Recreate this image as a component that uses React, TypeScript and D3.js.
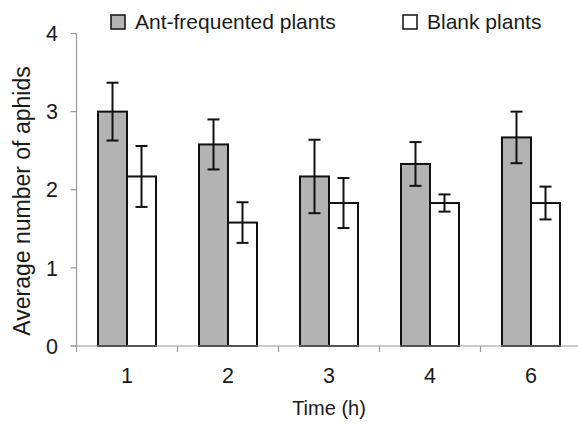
import React from 'react';
import * as d3 from 'd3';

// Time points (h) and the two series
const times = ['1', '2', '3', '4', '6'];
const antMeans = [3.0, 2.58, 2.17, 2.33, 2.67];
const antErrors = [0.37, 0.32, 0.47, 0.28, 0.33];
const blankMeans = [2.17, 1.58, 1.83, 1.83, 1.83];
const blankErrors = [0.39, 0.26, 0.32, 0.11, 0.21];
const yTicks = [0, 1, 2, 3, 4];

const seriesNames = ['Ant-frequented plants', 'Blank plants'];
const seriesFills = ['#b3b3b3', '#ffffff'];

const width = 578;
const height = 424;
const font = '"Liberation Sans", Arial, sans-serif';
const textColor = '#1a1a1a';

export default function App() {
  // plot area runs slightly past the right edge, like the cropped original
  const x = d3.scaleBand<string>().domain(times).range([76.5, 581.5]).paddingInner(0).paddingOuter(0);
  const inner = d3.scaleBand<string>().domain(['ant', 'blank']).range([21.5, x.bandwidth() - 21.5]);
  const y = d3.scaleLinear().domain([0, 4]).range([346, 33.5]);

  const series = [
    { key: 'ant', means: antMeans, errors: antErrors, fill: seriesFills[0] },
    { key: 'blank', means: blankMeans, errors: blankErrors, fill: seriesFills[1] },
  ];

  const x0 = x.range()[0];
  const x1 = x.range()[1];
  const boundaries = times.map(t => x(t)!).concat([x1]);

  return (
    <svg
      width={width}
      height={height}
      style={{ position: 'absolute', left: 0, top: 0, background: '#fff' }}
      fontFamily={font}
    >
      {/* y axis */}
      <line x1={x0} x2={x0} y1={y(4)} y2={y(0)} stroke="#999" strokeWidth={1.2} />
      {yTicks.map(t => (
        <g key={t}>
          <line x1={x0 - 6} x2={x0} y1={y(t)} y2={y(t)} stroke="#999" strokeWidth={1.2} />
          <text x={58} y={y(t)} dy="0.36em" textAnchor="end" fontSize={21.5} fill={textColor}>
            {t}
          </text>
        </g>
      ))}

      {/* bars */}
      {series.map(s =>
        times.map((t, i) => {
          const bx = x(t)! + inner(s.key)!;
          return (
            <rect
              key={s.key + t}
              x={bx}
              y={y(s.means[i])}
              width={inner.bandwidth()}
              height={y(0) - y(s.means[i])}
              fill={s.fill}
              stroke="#111"
              strokeWidth={2}
            />
          );
        })
      )}

      {/* error bars */}
      {series.map(s =>
        times.map((t, i) => {
          const cx = x(t)! + inner(s.key)! + inner.bandwidth() / 2;
          const top = y(s.means[i] + s.errors[i]);
          const bot = y(s.means[i] - s.errors[i]);
          return (
            <g key={'e' + s.key + t} stroke="#111" strokeWidth={2}>
              <line x1={cx} x2={cx} y1={top} y2={bot} />
              <line x1={cx - 6} x2={cx + 6} y1={top} y2={top} />
              <line x1={cx - 6} x2={cx + 6} y1={bot} y2={bot} />
            </g>
          );
        })
      )}

      {/* x axis */}
      <line x1={x0 - 6} x2={x1} y1={y(0)} y2={y(0)} stroke="#999" strokeWidth={1.2} />
      {boundaries.map((b, i) => (
        <line key={i} x1={b} x2={b} y1={y(0)} y2={y(0) + 6} stroke="#999" strokeWidth={1.2} />
      ))}
      {times.map(t => (
        <text key={t} x={x(t)! + x.bandwidth() / 2} y={383} textAnchor="middle" fontSize={21.5} fill={textColor}>
          {t}
        </text>
      ))}

      {/* axis titles */}
      <text x={(x0 + x1) / 2} y={415} textAnchor="middle" fontSize={20} fill={textColor}>
        Time (h)
      </text>
      <text
        transform={`translate(30,201) rotate(-90)`}
        textAnchor="middle"
        fontSize={23}
        fill={textColor}
      >
        Average number of aphids
      </text>

      {/* legend */}
      {seriesNames.map((name, i) => {
        const lx = i === 0 ? 111 : 403;
        return (
          <g key={name}>
            <rect x={lx} y={15} width={14} height={14} fill={seriesFills[i]} stroke="#111" strokeWidth={1.5} />
            <text x={lx + 24} y={29} fontSize={21} fill={textColor}>
              {name}
            </text>
          </g>
        );
      })}
    </svg>
  );
}
